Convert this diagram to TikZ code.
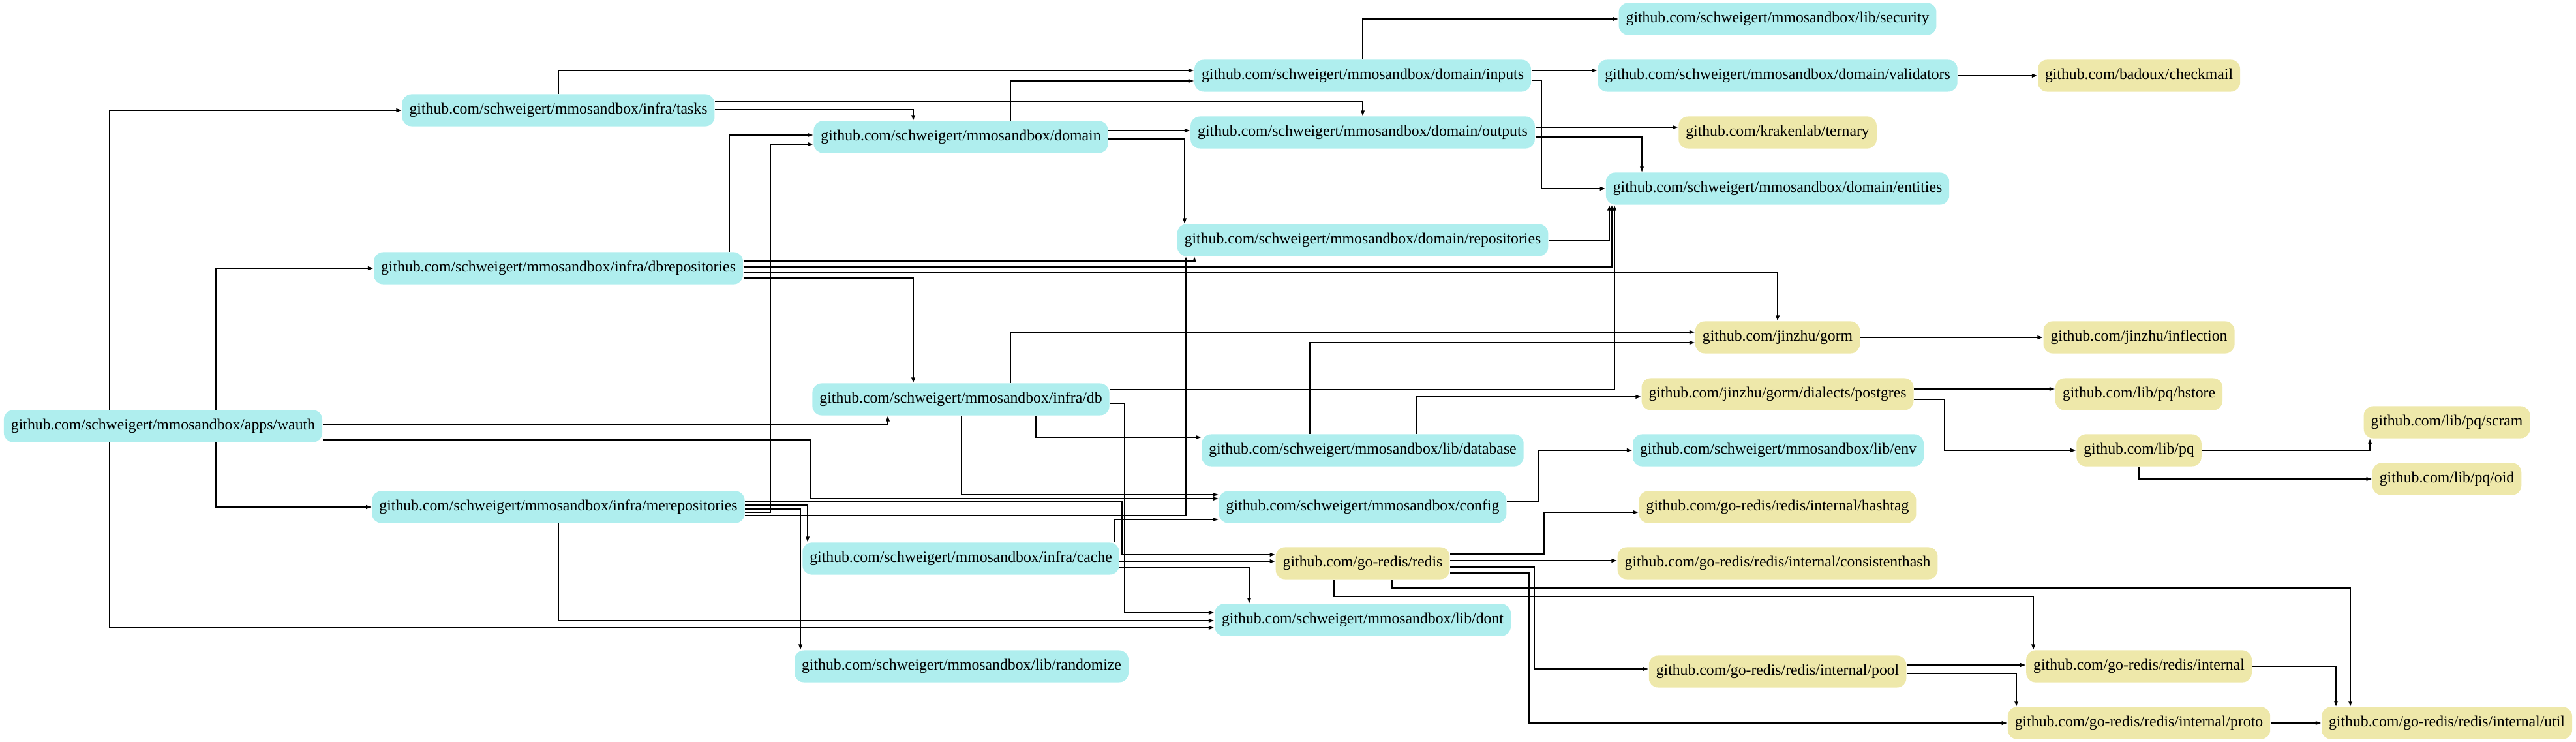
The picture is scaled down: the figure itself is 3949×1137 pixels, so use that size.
\documentclass[tikz,border=0pt]{standalone}
\usepackage{fontspec}
\setmainfont{Liberation Serif}
\usepackage{tikz}
\usetikzlibrary{arrows.meta}

\definecolor{mmocyan}{HTML}{AFEEEE}
\definecolor{extgold}{HTML}{EEE8AA}

\begin{document}
\begin{tikzpicture}[x=0.01cm, y=-0.01cm,
    font=\fontsize{6.75}{8}\selectfont,
    minimum height=4.9mm,
    inner xsep=1.1mm,
    >={Triangle[length=0.85mm,width=0.55mm]},
    pkg/.style={shape=rectangle, rounded corners=1.4mm},
    mmo/.style={pkg, fill=mmocyan},
    ext/.style={pkg, fill=extgold},
    dep/.style={->, line width=0.55pt}]

    \useasboundingbox (0,0) rectangle (3949,1137);

    % column 1
    \node[name=wauth, mmo] at (250,653) {github.com/schweigert/mmosandbox/apps/wauth};

    % column 2
    \node[name=tasks, mmo] at (856,169) {github.com/schweigert/mmosandbox/infra/tasks};
    \node[name=dbrepos, mmo] at (856,411) {github.com/schweigert/mmosandbox/infra/dbrepositories};
    \node[name=merepos, mmo] at (856,777) {github.com/schweigert/mmosandbox/infra/merepositories};

    % column 3
    \node[name=domain, mmo] at (1473,210) {github.com/schweigert/mmosandbox/domain};
    \node[name=db, mmo] at (1473,612) {github.com/schweigert/mmosandbox/infra/db};
    \node[name=cache, mmo] at (1473,856) {github.com/schweigert/mmosandbox/infra/cache};
    \node[name=randomize, mmo] at (1474,1021) {github.com/schweigert/mmosandbox/lib/randomize};

    % column 4
    \node[name=inputs, mmo] at (2089,116) {github.com/schweigert/mmosandbox/domain/inputs};
    \node[name=outputs, mmo] at (2089,203) {github.com/schweigert/mmosandbox/domain/outputs};
    \node[name=repos, mmo] at (2089,368) {github.com/schweigert/mmosandbox/domain/repositories};
    \node[name=database, mmo] at (2089,690) {github.com/schweigert/mmosandbox/lib/database};
    \node[name=config, mmo] at (2089,777) {github.com/schweigert/mmosandbox/config};
    \node[name=goredis, ext] at (2089,863) {github.com/go-redis/redis};
    \node[name=dont, mmo] at (2089,950) {github.com/schweigert/mmosandbox/lib/dont};

    % column 5
    \node[name=security, mmo] at (2725,29) {github.com/schweigert/mmosandbox/lib/security};
    \node[name=validators, mmo] at (2725,116) {github.com/schweigert/mmosandbox/domain/validators};
    \node[name=ternary, ext] at (2725,203) {github.com/krakenlab/ternary};
    \node[name=entities, mmo] at (2725,289) {github.com/schweigert/mmosandbox/domain/entities};
    \node[name=gorm, ext] at (2725,517) {github.com/jinzhu/gorm};
    \node[name=postgres, ext] at (2725,604) {github.com/jinzhu/gorm/dialects/postgres};
    \node[name=env, mmo] at (2726,690) {github.com/schweigert/mmosandbox/lib/env};
    \node[name=hashtag, ext] at (2725,777) {github.com/go-redis/redis/internal/hashtag};
    \node[name=conshash, ext] at (2725,863) {github.com/go-redis/redis/internal/consistenthash};
    \node[name=pool, ext] at (2725,1029) {github.com/go-redis/redis/internal/pool};

    % column 6
    \node[name=checkmail, ext] at (3279,116) {github.com/badoux/checkmail};
    \node[name=inflection, ext] at (3279,517) {github.com/jinzhu/inflection};
    \node[name=hstore, ext] at (3279,604) {github.com/lib/pq/hstore};
    \node[name=pq, ext] at (3279,690) {github.com/lib/pq};
    \node[name=internal, ext] at (3279,1021) {github.com/go-redis/redis/internal};
    \node[name=proto, ext] at (3279,1108) {github.com/go-redis/redis/internal/proto};

    % column 7
    \node[name=scram, ext] at (3751,647) {github.com/lib/pq/scram};
    \node[name=oid, ext] at (3751,734) {github.com/lib/pq/oid};
    \node[name=util, ext] at (3751,1108) {github.com/go-redis/redis/internal/util};

    % apps/wauth
    \draw[dep] (wauth.north -| 168,0) |- (tasks.west);
    \draw[dep] (wauth.north -| 331,0) |- (dbrepos.west);
    \draw[dep] (wauth.south -| 331,0) |- (merepos.west);
    \draw[dep] (wauth.south -| 168,0) |- (dont.west |- 0,962);
    \draw[dep] (wauth.east |- 0,651) -| (db.south -| 1361,0);
    \draw[dep] (wauth.east |- 0,674) -| (1243,764) -- (config.west |- 0,764);

    % infra/tasks
    \draw[dep] (tasks.north) |- (inputs.west |- 0,108);
    \draw[dep] (tasks.east |- 0,156) -| (outputs.north);
    \draw[dep] (tasks.east |- 0,168) -| (domain.north -| 1400,0);

    % infra/dbrepositories
    \draw[dep] (dbrepos.north -| 1118,0) |- (domain.west |- 0,207);
    \draw[dep] (dbrepos.east |- 0,400) -| (repos.south -| 1831,0);
    \draw[dep] (dbrepos.east |- 0,409) -| (entities.south -| 2471,0);
    \draw[dep] (dbrepos.east |- 0,418) -| (gorm.north);
    \draw[dep] (dbrepos.east |- 0,426) -| (db.north -| 1400,0);

    % infra/merepositories
    \draw[dep] (merepos.east |- 0,769) -| (1720,850) -- (goredis.west |- 0,850);
    \draw[dep] (merepos.east |- 0,774) -| (cache.north -| 1238,0);
    \draw[dep] (merepos.east |- 0,780) -| (randomize.north -| 1227,0);
    \draw[dep] (merepos.east |- 0,785) -| (1181,221) -- (domain.west |- 0,221);
    \draw[dep] (merepos.east |- 0,790) -| (repos.south -| 1818,0);
    \draw[dep] (merepos.south) |- (dont.west |- 0,951);

    % domain
    \draw[dep] (domain.north -| 1549,0) |- (inputs.west |- 0,124);
    \draw[dep] (domain.east |- 0,200) -- (outputs.west |- 0,200);
    \draw[dep] (domain.east |- 0,213) -| (repos.north -| 1816,0);

    % infra/db
    \draw[dep] (db.north -| 1549,0) |- (gorm.west |- 0,509);
    \draw[dep] (db.east |- 0,597) -| (entities.south -| 2475,0);
    \draw[dep] (db.east |- 0,618) -| (1724,939) -- (dont.west |- 0,939);
    \draw[dep] (db.south -| 1588,0) |- (database.west |- 0,670);
    \draw[dep] (db.south -| 1474,0) |- (config.west |- 0,758);

    % infra/cache
    \draw[dep] (cache.north -| 1708,0) |- (config.west |- 0,796);
    \draw[dep] (cache.east |- 0,860) -- (goredis.west |- 0,860);
    \draw[dep] (cache.east |- 0,870) -| (dont.north -| 1915,0);

    % domain/inputs, domain/outputs, domain/repositories
    \draw[dep] (inputs.north) |- (security.west);
    \draw[dep] (inputs.east |- 0,108) -- (validators.west |- 0,108);
    \draw[dep] (inputs.east |- 0,123) -| (2363,289) -- (entities.west);
    \draw[dep] (outputs.east |- 0,195) -- (ternary.west |- 0,195);
    \draw[dep] (outputs.east |- 0,210) -| (entities.north -| 2517,0);
    \draw[dep] (repos.east) -| (entities.south -| 2467,0);
    \draw[dep] (validators) -- (checkmail);

    % lib/database, config
    \draw[dep] (database.north -| 2008,0) |- (gorm.west |- 0,525);
    \draw[dep] (database.north -| 2171,0) |- (postgres.west |- 0,608);
    \draw[dep] (config.east |- 0,769) -| (2358,690) -- (env.west);

    % go-redis
    \draw[dep] (goredis.east |- 0,849) -| (2367,785) -- (hashtag.west |- 0,785);
    \draw[dep] (goredis.east |- 0,859) -- (conshash.west |- 0,859);
    \draw[dep] (goredis.east |- 0,869) -| (2352,1025) -- (pool.west |- 0,1025);
    \draw[dep] (goredis.east |- 0,878) -| (2344,1108) -- (proto.west);
    \draw[dep] (goredis.south -| 2134,0) |- (3603,901) -- (util.north -| 3603,0);
    \draw[dep] (goredis.south -| 2045,0) |- (3117,914) -- (internal.north -| 3117,0);
    \draw[dep] (pool.east |- 0,1019) -- (internal.west |- 0,1019);
    \draw[dep] (pool.east |- 0,1032) -| (proto.north -| 3091,0);
    \draw[dep] (internal.east) -| (util.north -| 3581,0);
    \draw[dep] (proto) -- (util);

    % gorm, pq
    \draw[dep] (gorm) -- (inflection);
    \draw[dep] (postgres.east |- 0,596) -- (hstore.west |- 0,596);
    \draw[dep] (postgres.east |- 0,612) -| (2981,690) -- (pq.west);
    \draw[dep] (pq.east) -| (scram.south -| 3633,0);
    \draw[dep] (pq.south) |- (oid.west);

\end{tikzpicture}
\end{document}
